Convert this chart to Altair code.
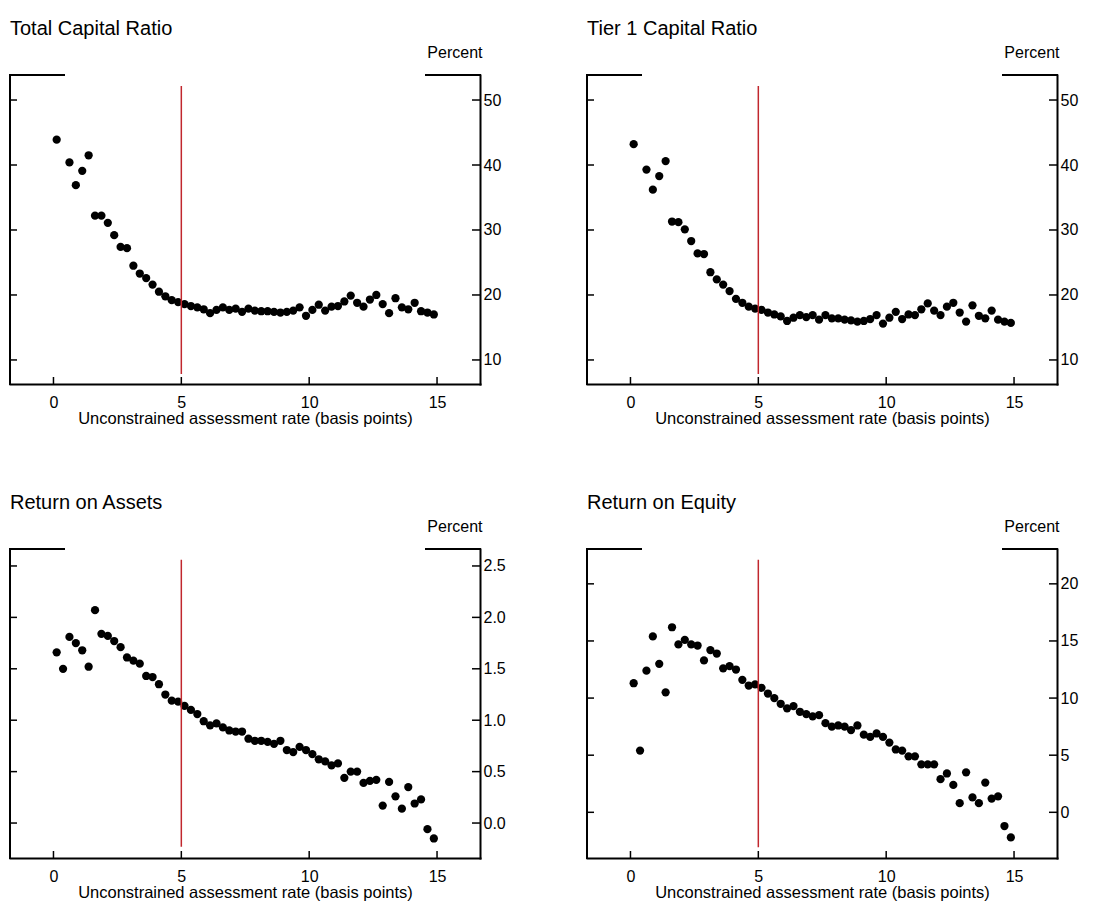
import altair as alt
import pandas as pd

FONT = "Liberation Sans"
RED = "#c1272d"

# assessment rate (basis points) - bin centers
X = [0.125, 0.375, 0.625, 0.875, 1.125, 1.375, 1.625, 1.875, 2.125, 2.375,
     2.625, 2.875, 3.125, 3.375, 3.625, 3.875, 4.125, 4.375, 4.625, 4.875,
     5.125, 5.375, 5.625, 5.875, 6.125, 6.375, 6.625, 6.875, 7.125, 7.375,
     7.625, 7.875, 8.125, 8.375, 8.625, 8.875, 9.125, 9.375, 9.625, 9.875,
     10.125, 10.375, 10.625, 10.875, 11.125, 11.375, 11.625, 11.875, 12.125, 12.375,
     12.625, 12.875, 13.125, 13.375, 13.625, 13.875, 14.125, 14.375, 14.625, 14.875]

total_capital = [43.9, None, 40.4, 36.9, 39.1, 41.5, 32.2, 32.2, 31.1, 29.2,
                 27.4, 27.2, 24.5, 23.3, 22.6, 21.6, 20.5, 19.8, 19.2, 18.9,
                 18.6, 18.3, 18.1, 17.8, 17.2, 17.7, 18.1, 17.7, 17.9, 17.4,
                 17.9, 17.6, 17.5, 17.5, 17.4, 17.3, 17.4, 17.6, 18.1, 16.8,
                 17.7, 18.5, 17.6, 18.2, 18.3, 19.0, 19.9, 18.8, 18.2, 19.3,
                 20.0, 18.6, 17.2, 19.5, 18.1, 17.8, 18.8, 17.5, 17.3, 17.0]

tier1_capital = [43.2, None, 39.3, 36.2, 38.3, 40.6, 31.3, 31.2, 30.1, 28.3,
                 26.4, 26.3, 23.5, 22.4, 21.6, 20.6, 19.4, 18.8, 18.2, 17.9,
                 17.7, 17.3, 17.0, 16.7, 16.0, 16.5, 16.9, 16.6, 16.9, 16.2,
                 16.9, 16.4, 16.4, 16.2, 16.1, 15.9, 16.0, 16.3, 16.9, 15.6,
                 16.5, 17.4, 16.3, 17.0, 16.9, 17.8, 18.7, 17.6, 16.9, 18.2,
                 18.8, 17.3, 15.9, 18.4, 16.8, 16.4, 17.6, 16.2, 15.9, 15.7]

roa = [1.66, 1.50, 1.81, 1.75, 1.68, 1.52, 2.07, 1.84, 1.82, 1.77,
       1.71, 1.61, 1.58, 1.55, 1.43, 1.42, 1.35, 1.25, 1.19, 1.18,
       1.14, 1.10, 1.06, 0.99, 0.95, 0.97, 0.93, 0.90, 0.89, 0.89,
       0.82, 0.80, 0.80, 0.79, 0.77, 0.80, 0.71, 0.69, 0.74, 0.71,
       0.67, 0.62, 0.60, 0.56, 0.58, 0.44, 0.50, 0.50, 0.39, 0.41,
       0.42, 0.17, 0.40, 0.26, 0.14, 0.35, 0.19, 0.23, -0.06, -0.15]

roe = [11.3, 5.4, 12.4, 15.4, 13.0, 10.5, 16.2, 14.7, 15.1, 14.7,
       14.6, 13.3, 14.2, 13.9, 12.6, 12.8, 12.5, 11.6, 11.1, 11.2,
       10.9, 10.4, 10.0, 9.5, 9.1, 9.3, 8.8, 8.6, 8.4, 8.5,
       7.8, 7.5, 7.6, 7.5, 7.2, 7.6, 6.8, 6.6, 6.9, 6.6,
       6.1, 5.5, 5.4, 4.9, 4.9, 4.2, 4.2, 4.2, 2.9, 3.4,
       2.4, 0.8, 3.5, 1.3, 0.8, 2.6, 1.2, 1.4, -1.2, -2.2]

X_TICKS = [0, 5, 10, 15]
X_DOMAIN = [-1.7, 16.68]
X_TITLE = "Unconstrained assessment rate (basis points)"
CUTOFF = 5

CAP_TICKS = [10, 20, 30, 40, 50]
ROA_TICKS = [0.0, 0.5, 1.0, 1.5, 2.0, 2.5]
ROE_TICKS = [0, 5, 10, 15, 20]

W, H = 470, 309


def panel(title, yvals, ydom, yticks, yfmt, red_lo, red_hi):
    xs = alt.Scale(domain=X_DOMAIN, nice=False, zero=False)
    ys = alt.Scale(domain=ydom, nice=False, zero=False)
    xax = alt.Axis(values=X_TICKS, title=X_TITLE, format="d")
    yax = alt.Axis(orient="right", values=yticks, format=yfmt,
                   title="Percent", titleAngle=0, titleAlign="right",
                   titleBaseline="middle", titleX=2, titleY=-23, titleFontSize=16)
    one = pd.DataFrame({"k": [0]})

    pts = alt.Chart(pd.DataFrame({"x": X, "y": yvals})).mark_circle(
        size=68, color="black", opacity=1
    ).encode(
        x=alt.X("x:Q", scale=xs, axis=xax),
        y=alt.Y("y:Q", scale=ys, axis=yax),
    )

    red = alt.Chart(pd.DataFrame({"x": [CUTOFF], "y": [red_lo], "y2": [red_hi]})).mark_rule(
        color=RED, strokeWidth=1.5
    ).encode(
        x=alt.X("x:Q", scale=xs, axis=xax),
        y=alt.Y("y:Q", scale=ys, axis=yax),
        y2="y2:Q",
    )

    ytk = pd.DataFrame({"y": yticks})
    left_ticks = alt.Chart(ytk).mark_rule(color="black", strokeWidth=1.5).encode(
        y=alt.Y("y:Q", scale=ys, axis=yax), x=alt.value(0), x2=alt.value(7))
    right_ticks = alt.Chart(ytk).mark_rule(color="black", strokeWidth=1.5).encode(
        y=alt.Y("y:Q", scale=ys, axis=yax), x=alt.value(W - 8), x2=alt.value(W))
    bottom_ticks = alt.Chart(pd.DataFrame({"x": X_TICKS})).mark_rule(
        color="black", strokeWidth=1.5
    ).encode(x=alt.X("x:Q", scale=xs, axis=xax), y=alt.value(H - 7), y2=alt.value(H))

    left_line = alt.Chart(one).mark_rule(color="black", strokeWidth=2, strokeCap="square").encode(
        x=alt.value(0), y=alt.value(0), y2=alt.value(H))
    top_left = alt.Chart(one).mark_rule(color="black", strokeWidth=2, strokeCap="square").encode(
        x=alt.value(0), x2=alt.value(54), y=alt.value(0))
    top_right = alt.Chart(one).mark_rule(color="black", strokeWidth=2, strokeCap="square").encode(
        x=alt.value(W - 54), x2=alt.value(W), y=alt.value(0))

    return alt.layer(
        pts, red, left_ticks, right_ticks, bottom_ticks, left_line, top_left, top_right
    ).properties(
        width=W, height=H,
        title=alt.TitleParams(title, anchor="start", frame="group", fontSize=20,
                              font=FONT, fontWeight="normal", color="black", offset=5),
    )


p1 = panel("Total Capital Ratio", total_capital, [6.3, 53.85], CAP_TICKS, "d", 7.85, 52.15)
p2 = panel("Tier 1 Capital Ratio", tier1_capital, [6.3, 53.85], CAP_TICKS, "d", 7.85, 52.15)
p3 = panel("Return on Assets", roa, [-0.34, 2.665], ROA_TICKS, ".1f", -0.23, 2.56)
p4 = panel("Return on Equity", roe, [-4.0, 23.05], ROE_TICKS, "d", -3.05, 22.1)

chart = alt.concat(
    p1, p2, p3, p4, columns=2,
    spacing={"row": 165, "column": 107}, bounds="flush",
).properties(
    padding={"left": 0, "top": 11, "right": 5, "bottom": 5}
).configure_axis(
    domainColor="black", domainWidth=2, domainCap="square", ticks=False, grid=False,
    labelFont=FONT, labelFontSize=16, labelColor="black", labelPadding=3,
    titleFont=FONT, titleFontSize=16.5, titleFontWeight="normal", titleColor="black",
).configure_axisBottom(
    labelPadding=10, titlePadding=0
).configure_view(stroke=None)

chart.save("out.html", embed_options={"renderer": "svg", "actions": False})
